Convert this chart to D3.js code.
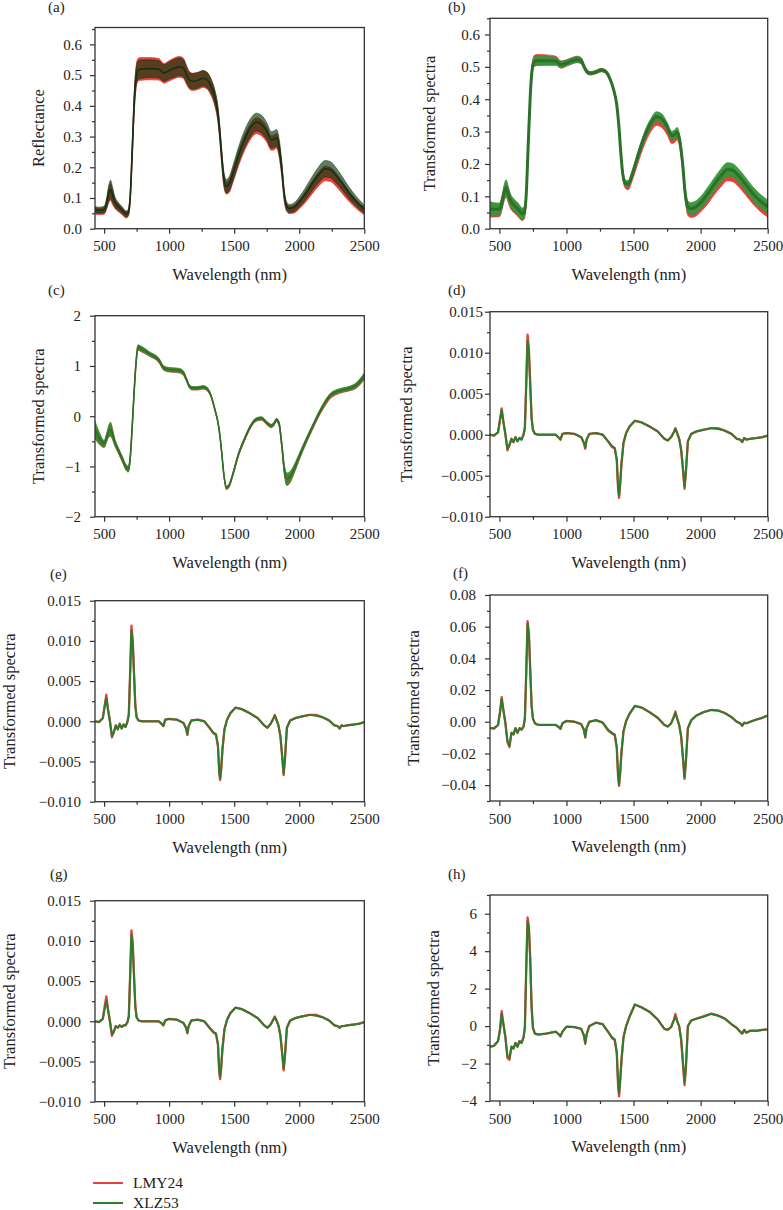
<!DOCTYPE html>
<html><head><meta charset="utf-8">
<script src="https://cdn.jsdelivr.net/npm/d3@7"></script>
<style>
body{margin:0;background:#fff;}
svg{display:block;font-family:"Liberation Serif","DejaVu Serif",serif;}
.tick text{font-size:15px;fill:#222;font-family:"Liberation Serif",serif;}
.tick line{stroke:#333;stroke-width:1.2;}
</style></head><body>
<svg id="chart" width="783" height="1210"></svg>
<script>
// ---------------- DATA ----------------
const seriesNames = ["LMY24", "XLZ53"];
const xDomain = [430, 2500];
const xMajorTicks = [500, 1000, 1500, 2000, 2500];
const xMinorTicks = [750, 1250, 1750, 2250];

// wavelength knots for spectra panels (a)-(c)
const wlSpec = [430,460,500,520,535,550,565,580,610,640,670,685,700,715,730,745,760,780,850,920,960,1000,1050,1080,1110,1135,1155,1180,1220,1260,1290,1320,1350,1375,1390,1405,1420,1440,1460,1490,1530,1580,1630,1670,1710,1750,1785,1805,1825,1845,1865,1885,1905,1925,1960,2000,2050,2100,2150,2200,2240,2280,2330,2380,2440,2500];

// (a) Reflectance: mean and half-spread per variety
const aXLZ53Mean = [0.062,0.060,0.062,0.085,0.115,0.128,0.110,0.090,0.072,0.060,0.048,0.052,0.100,0.240,0.400,0.490,0.515,0.519,0.521,0.519,0.507,0.515,0.524,0.527,0.522,0.500,0.485,0.480,0.483,0.490,0.485,0.465,0.430,0.375,0.310,0.230,0.165,0.138,0.145,0.180,0.235,0.292,0.332,0.347,0.340,0.318,0.289,0.291,0.296,0.268,0.200,0.110,0.072,0.066,0.070,0.087,0.115,0.147,0.176,0.195,0.192,0.175,0.148,0.118,0.088,0.064];
const aXLZ53Spread = [0.010,0.010,0.011,0.016,0.025,0.030,0.025,0.018,0.013,0.011,0.010,0.010,0.015,0.025,0.030,0.030,0.030,0.030,0.029,0.028,0.027,0.028,0.029,0.029,0.028,0.026,0.025,0.025,0.025,0.025,0.025,0.024,0.023,0.022,0.022,0.022,0.022,0.022,0.023,0.025,0.027,0.028,0.029,0.029,0.029,0.028,0.027,0.027,0.027,0.026,0.022,0.016,0.013,0.013,0.014,0.016,0.020,0.023,0.026,0.027,0.026,0.025,0.022,0.019,0.016,0.013];
const aLMY24Mean = [0.058,0.056,0.058,0.080,0.108,0.120,0.103,0.085,0.068,0.056,0.045,0.050,0.095,0.235,0.395,0.490,0.517,0.520,0.521,0.519,0.506,0.514,0.524,0.527,0.522,0.499,0.483,0.478,0.481,0.487,0.482,0.462,0.426,0.370,0.305,0.225,0.160,0.133,0.138,0.172,0.225,0.280,0.320,0.335,0.328,0.307,0.279,0.281,0.286,0.259,0.192,0.104,0.067,0.061,0.064,0.079,0.105,0.135,0.162,0.180,0.177,0.161,0.135,0.107,0.079,0.057];
const aLMY24Spread = [0.010,0.010,0.011,0.016,0.024,0.028,0.024,0.017,0.013,0.011,0.010,0.010,0.015,0.025,0.030,0.035,0.037,0.037,0.036,0.035,0.032,0.033,0.034,0.034,0.033,0.030,0.028,0.028,0.028,0.027,0.027,0.026,0.025,0.024,0.023,0.022,0.021,0.020,0.021,0.022,0.024,0.025,0.026,0.026,0.026,0.025,0.024,0.024,0.024,0.024,0.020,0.015,0.012,0.012,0.013,0.015,0.018,0.021,0.023,0.024,0.023,0.022,0.020,0.017,0.014,0.012];

// (b)
const bXLZ53Mean = [0.062,0.060,0.060,0.083,0.112,0.127,0.110,0.090,0.072,0.060,0.046,0.050,0.105,0.260,0.410,0.495,0.516,0.519,0.519,0.518,0.507,0.512,0.520,0.523,0.519,0.497,0.484,0.480,0.484,0.490,0.486,0.467,0.432,0.382,0.320,0.235,0.168,0.140,0.138,0.168,0.222,0.283,0.327,0.346,0.340,0.315,0.287,0.291,0.299,0.272,0.205,0.110,0.067,0.062,0.066,0.080,0.106,0.136,0.163,0.183,0.180,0.165,0.140,0.113,0.087,0.068];
const bXLZ53Spread = [0.022,0.020,0.019,0.020,0.022,0.024,0.022,0.020,0.019,0.019,0.018,0.017,0.016,0.016,0.015,0.014,0.014,0.014,0.013,0.012,0.010,0.009,0.009,0.009,0.009,0.007,0.006,0.005,0.005,0.005,0.005,0.005,0.005,0.006,0.007,0.008,0.009,0.010,0.011,0.012,0.013,0.014,0.014,0.015,0.015,0.014,0.014,0.014,0.014,0.014,0.014,0.016,0.018,0.019,0.019,0.019,0.020,0.020,0.021,0.021,0.021,0.021,0.021,0.021,0.021,0.021];
const bLMY24Mean = [0.058,0.056,0.056,0.079,0.107,0.121,0.104,0.085,0.068,0.056,0.043,0.047,0.100,0.255,0.405,0.494,0.518,0.521,0.521,0.519,0.507,0.512,0.520,0.523,0.519,0.497,0.484,0.480,0.484,0.490,0.486,0.467,0.431,0.380,0.317,0.231,0.163,0.134,0.131,0.160,0.212,0.272,0.315,0.334,0.328,0.304,0.277,0.280,0.288,0.262,0.196,0.102,0.059,0.054,0.057,0.071,0.095,0.124,0.150,0.169,0.166,0.152,0.128,0.102,0.076,0.057];
const bLMY24Spread = [0.022,0.020,0.019,0.020,0.022,0.024,0.022,0.020,0.019,0.019,0.018,0.017,0.016,0.016,0.015,0.016,0.017,0.017,0.016,0.014,0.011,0.010,0.010,0.010,0.009,0.007,0.006,0.005,0.005,0.005,0.005,0.005,0.005,0.006,0.007,0.008,0.009,0.010,0.011,0.012,0.013,0.014,0.014,0.015,0.015,0.014,0.014,0.014,0.014,0.014,0.014,0.016,0.018,0.019,0.019,0.019,0.020,0.020,0.021,0.021,0.021,0.021,0.021,0.021,0.021,0.021];

// (c)
const cXLZ53Mean = [-0.27,-0.42,-0.55,-0.42,-0.30,-0.26,-0.36,-0.50,-0.68,-0.85,-1.02,-1.05,-0.85,-0.25,0.45,1.05,1.37,1.35,1.24,1.12,0.96,0.93,0.92,0.91,0.86,0.72,0.60,0.56,0.56,0.58,0.55,0.42,0.15,-0.12,-0.38,-0.75,-1.15,-1.42,-1.38,-1.15,-0.78,-0.45,-0.18,-0.06,-0.04,-0.13,-0.19,-0.15,-0.07,-0.15,-0.55,-1.05,-1.25,-1.22,-1.05,-0.80,-0.50,-0.22,0.05,0.28,0.42,0.48,0.52,0.55,0.62,0.80];
const cXLZ53Spread = [0.17,0.12,0.07,0.08,0.11,0.14,0.10,0.07,0.05,0.05,0.05,0.06,0.05,0.05,0.05,0.05,0.05,0.05,0.04,0.04,0.04,0.04,0.04,0.04,0.04,0.03,0.03,0.03,0.03,0.03,0.03,0.02,0.02,0.02,0.02,0.02,0.02,0.03,0.03,0.03,0.03,0.03,0.03,0.03,0.03,0.03,0.03,0.03,0.03,0.04,0.06,0.09,0.12,0.11,0.08,0.06,0.05,0.04,0.04,0.04,0.04,0.04,0.04,0.04,0.05,0.06];
const cLMY24Mean = [-0.29,-0.44,-0.56,-0.43,-0.31,-0.27,-0.37,-0.51,-0.69,-0.86,-1.03,-1.06,-0.86,-0.26,0.44,1.04,1.36,1.34,1.23,1.11,0.95,0.92,0.91,0.90,0.85,0.71,0.59,0.55,0.55,0.57,0.54,0.41,0.14,-0.13,-0.39,-0.76,-1.16,-1.43,-1.39,-1.16,-0.79,-0.46,-0.19,-0.07,-0.05,-0.14,-0.20,-0.16,-0.08,-0.16,-0.57,-1.08,-1.28,-1.25,-1.07,-0.82,-0.52,-0.24,0.03,0.25,0.39,0.46,0.51,0.54,0.61,0.79];
const cLMY24Spread = [0.15,0.11,0.06,0.07,0.10,0.12,0.09,0.06,0.05,0.05,0.05,0.05,0.05,0.05,0.05,0.05,0.05,0.05,0.04,0.04,0.04,0.04,0.04,0.04,0.04,0.03,0.03,0.03,0.03,0.03,0.03,0.02,0.02,0.02,0.02,0.02,0.02,0.03,0.03,0.03,0.03,0.03,0.03,0.03,0.03,0.03,0.03,0.03,0.03,0.04,0.05,0.08,0.10,0.09,0.07,0.05,0.04,0.04,0.04,0.04,0.04,0.04,0.04,0.04,0.05,0.06];

// wavelength knots for derivative panels (d)-(h)
const wlDeriv = [430,460,490,505,517,530,545,560,575,590,605,620,635,650,665,680,690,700,710,720,730,740,750,765,790,850,920,945,955,970,1000,1060,1110,1130,1140,1150,1170,1220,1270,1310,1340,1360,1375,1385,1392,1400,1410,1425,1445,1470,1510,1560,1620,1680,1730,1755,1780,1800,1812,1825,1840,1855,1868,1880,1890,1905,1930,1970,2020,2080,2130,2180,2230,2270,2295,2310,2325,2340,2370,2420,2460,2500];

// (d)
const dXLZ53 = [0.0000,-0.0001,0.0003,0.0018,0.0030,0.0015,0.0000,-0.0017,-0.0012,-0.0005,-0.0009,-0.0003,-0.0008,-0.0004,-0.0006,0.0000,0.0008,0.0060,0.0115,0.0100,0.0060,0.0020,0.0006,0.0001,0.0000,0.0000,0.0000,-0.0004,-0.0006,0.0001,0.0002,0.0001,-0.0003,-0.0010,-0.0016,-0.0006,0.0001,0.0002,0.0000,-0.0008,-0.0014,-0.0016,-0.0030,-0.0065,-0.0074,-0.0060,-0.0035,-0.0010,0.0002,0.0010,0.0017,0.0015,0.0010,0.0004,-0.0005,-0.0007,-0.0003,0.0003,0.0007,0.0002,-0.0005,-0.0018,-0.0040,-0.0063,-0.0045,-0.0008,0.0001,0.0004,0.0006,0.0008,0.0007,0.0005,0.0001,-0.0005,-0.0006,-0.0009,-0.0004,-0.0006,-0.0005,-0.0004,-0.0003,-0.0001];
const dLMY24 = [0.0000,-0.0001,0.0003,0.0019,0.0032,0.0016,0.0000,-0.0019,-0.0013,-0.0005,-0.0009,-0.0003,-0.0008,-0.0004,-0.0006,0.0000,0.0009,0.0063,0.0122,0.0104,0.0062,0.0021,0.0006,0.0001,0.0000,0.0000,0.0000,-0.0004,-0.0006,0.0001,0.0002,0.0001,-0.0003,-0.0010,-0.0017,-0.0006,0.0001,0.0002,0.0000,-0.0008,-0.0015,-0.0017,-0.0031,-0.0067,-0.0077,-0.0062,-0.0036,-0.0010,0.0002,0.0010,0.0017,0.0015,0.0010,0.0004,-0.0005,-0.0007,-0.0003,0.0003,0.0008,0.0002,-0.0005,-0.0019,-0.0042,-0.0066,-0.0047,-0.0008,0.0001,0.0004,0.0006,0.0008,0.0008,0.0005,0.0001,-0.0005,-0.0006,-0.0009,-0.0004,-0.0006,-0.0005,-0.0004,-0.0003,-0.0001];

// (e)
const eXLZ53 = [0.0000,-0.0001,0.0004,0.0019,0.0029,0.0014,0.0000,-0.0018,-0.0013,-0.0005,-0.0010,-0.0003,-0.0009,-0.0004,-0.0007,0.0000,0.0008,0.0058,0.0113,0.0098,0.0058,0.0019,0.0005,0.0001,0.0000,0.0000,0.0000,-0.0004,-0.0006,0.0002,0.0003,0.0002,-0.0002,-0.0009,-0.0016,-0.0006,0.0001,0.0002,0.0000,-0.0008,-0.0014,-0.0016,-0.0030,-0.0063,-0.0071,-0.0058,-0.0034,-0.0010,0.0002,0.0010,0.0017,0.0015,0.0010,0.0004,-0.0005,-0.0008,-0.0003,0.0003,0.0007,0.0002,-0.0005,-0.0018,-0.0041,-0.0065,-0.0046,-0.0008,0.0001,0.0004,0.0006,0.0008,0.0007,0.0005,0.0001,-0.0005,-0.0006,-0.0009,-0.0005,-0.0006,-0.0005,-0.0004,-0.0003,-0.0001];
const eLMY24 = [0.0000,-0.0001,0.0004,0.0020,0.0033,0.0015,0.0000,-0.0020,-0.0014,-0.0005,-0.0010,-0.0003,-0.0009,-0.0004,-0.0007,0.0000,0.0009,0.0061,0.0119,0.0101,0.0060,0.0020,0.0005,0.0001,0.0000,0.0000,0.0000,-0.0004,-0.0006,0.0002,0.0003,0.0002,-0.0002,-0.0009,-0.0017,-0.0006,0.0001,0.0002,0.0000,-0.0008,-0.0015,-0.0017,-0.0031,-0.0065,-0.0073,-0.0060,-0.0035,-0.0010,0.0002,0.0010,0.0017,0.0015,0.0010,0.0004,-0.0005,-0.0008,-0.0003,0.0003,0.0008,0.0002,-0.0005,-0.0019,-0.0043,-0.0067,-0.0048,-0.0008,0.0001,0.0004,0.0006,0.0008,0.0008,0.0005,0.0001,-0.0005,-0.0006,-0.0009,-0.0005,-0.0006,-0.0005,-0.0004,-0.0003,-0.0001];

// (f)
const fXLZ53 = [-0.0040,-0.0042,-0.0020,0.0060,0.0145,0.0070,-0.0010,-0.0120,-0.0150,-0.0070,-0.0080,-0.0040,-0.0070,-0.0040,-0.0050,-0.0030,0.0020,0.0300,0.0620,0.0550,0.0320,0.0100,0.0020,-0.0010,-0.0020,-0.0020,-0.0020,-0.0035,-0.0045,-0.0010,0.0005,0.0000,-0.0015,-0.0050,-0.0095,-0.0040,0.0000,0.0010,-0.0005,-0.0050,-0.0070,-0.0080,-0.0160,-0.0340,-0.0395,-0.0320,-0.0190,-0.0060,0.0005,0.0050,0.0100,0.0090,0.0060,0.0025,-0.0020,-0.0030,-0.0010,0.0030,0.0055,0.0020,-0.0020,-0.0090,-0.0220,-0.0350,-0.0250,-0.0040,0.0010,0.0040,0.0060,0.0075,0.0070,0.0055,0.0030,0.0000,-0.0010,-0.0025,-0.0005,-0.0010,0.0000,0.0015,0.0025,0.0040];
const fLMY24 = [-0.0040,-0.0042,-0.0020,0.0065,0.0155,0.0075,-0.0010,-0.0128,-0.0160,-0.0070,-0.0080,-0.0040,-0.0070,-0.0040,-0.0050,-0.0030,0.0022,0.0310,0.0635,0.0560,0.0330,0.0105,0.0020,-0.0010,-0.0020,-0.0020,-0.0020,-0.0035,-0.0045,-0.0010,0.0005,0.0000,-0.0015,-0.0050,-0.0100,-0.0040,0.0000,0.0010,-0.0005,-0.0055,-0.0075,-0.0085,-0.0165,-0.0350,-0.0405,-0.0330,-0.0195,-0.0060,0.0005,0.0050,0.0100,0.0090,0.0060,0.0025,-0.0020,-0.0030,-0.0010,0.0032,0.0065,0.0022,-0.0020,-0.0095,-0.0230,-0.0360,-0.0260,-0.0040,0.0010,0.0040,0.0060,0.0075,0.0072,0.0055,0.0030,0.0000,-0.0010,-0.0025,-0.0005,-0.0010,0.0000,0.0015,0.0025,0.0040];

// (g)
const gXLZ53 = [0.0000,-0.0001,0.0003,0.0016,0.0026,0.0014,0.0000,-0.0016,-0.0012,-0.0006,-0.0008,-0.0005,-0.0007,-0.0005,-0.0005,-0.0001,0.0006,0.0055,0.0108,0.0094,0.0055,0.0018,0.0005,0.0001,0.0000,0.0000,0.0000,-0.0003,-0.0005,0.0001,0.0003,0.0002,-0.0002,-0.0008,-0.0014,-0.0006,0.0001,0.0002,0.0000,-0.0008,-0.0013,-0.0015,-0.0028,-0.0061,-0.0069,-0.0056,-0.0033,-0.0010,0.0002,0.0010,0.0017,0.0015,0.0010,0.0004,-0.0005,-0.0008,-0.0004,0.0002,0.0005,0.0001,-0.0005,-0.0017,-0.0038,-0.0059,-0.0043,-0.0008,0.0001,0.0004,0.0006,0.0008,0.0007,0.0005,0.0001,-0.0005,-0.0006,-0.0008,-0.0006,-0.0006,-0.0005,-0.0004,-0.0003,-0.0001];
const gLMY24 = [0.0000,-0.0001,0.0003,0.0019,0.0031,0.0015,0.0000,-0.0018,-0.0013,-0.0006,-0.0008,-0.0005,-0.0007,-0.0005,-0.0005,-0.0001,0.0007,0.0058,0.0113,0.0098,0.0057,0.0019,0.0005,0.0001,0.0000,0.0000,0.0000,-0.0003,-0.0005,0.0001,0.0003,0.0002,-0.0002,-0.0008,-0.0015,-0.0006,0.0001,0.0002,0.0000,-0.0008,-0.0014,-0.0016,-0.0029,-0.0064,-0.0072,-0.0058,-0.0034,-0.0010,0.0002,0.0010,0.0017,0.0015,0.0010,0.0004,-0.0005,-0.0008,-0.0004,0.0002,0.0006,0.0001,-0.0005,-0.0018,-0.0039,-0.0061,-0.0044,-0.0008,0.0001,0.0004,0.0006,0.0008,0.0008,0.0005,0.0001,-0.0005,-0.0006,-0.0008,-0.0006,-0.0006,-0.0005,-0.0004,-0.0003,-0.0001];

// (h)
const hXLZ53 = [-1.10,-1.05,-0.80,-0.20,0.65,0.10,-0.60,-1.60,-1.70,-1.10,-1.20,-0.90,-1.10,-0.80,-0.90,-0.60,-0.10,3.00,5.60,5.20,3.50,1.00,-0.10,-0.40,-0.45,-0.40,-0.30,-0.45,-0.55,-0.30,-0.03,-0.05,-0.15,-0.50,-0.90,-0.45,0.00,0.18,0.10,-0.30,-0.60,-0.70,-1.40,-3.10,-3.60,-2.90,-1.80,-0.60,0.00,0.50,1.15,1.00,0.75,0.35,-0.15,-0.20,-0.05,0.30,0.50,0.25,0.00,-0.70,-1.90,-3.00,-2.20,0.00,0.30,0.40,0.50,0.65,0.55,0.40,0.10,-0.10,-0.30,-0.40,-0.20,-0.35,-0.25,-0.25,-0.20,-0.18];
const hLMY24 = [-1.10,-1.05,-0.80,-0.15,0.80,0.12,-0.60,-1.70,-1.80,-1.10,-1.20,-0.90,-1.10,-0.80,-0.90,-0.60,-0.05,3.10,5.80,5.30,3.60,1.05,-0.10,-0.40,-0.45,-0.40,-0.30,-0.45,-0.55,-0.30,-0.03,-0.05,-0.15,-0.50,-0.95,-0.45,0.00,0.18,0.10,-0.30,-0.65,-0.75,-1.45,-3.20,-3.75,-3.00,-1.85,-0.60,0.00,0.50,1.15,1.00,0.77,0.35,-0.15,-0.20,-0.05,0.32,0.65,0.28,0.00,-0.75,-2.00,-3.15,-2.30,0.00,0.30,0.40,0.52,0.67,0.57,0.40,0.10,-0.10,-0.30,-0.40,-0.20,-0.35,-0.25,-0.25,-0.20,-0.18];

// y tick labels per panel
const yTicksA = [0.0,0.1,0.2,0.3,0.4,0.5,0.6];
const yMinorA = [0.05,0.15,0.25,0.35,0.45,0.55,0.65];
const yTicksC = [-2,-1,0,1,2];
const yMinorC = [-1.5,-0.5,0.5,1.5];
const yTicksD = [-0.010,-0.005,0.000,0.005,0.010,0.015];
const yMinorD = [-0.0075,-0.0025,0.0025,0.0075,0.0125];
const yTicksF = [-0.04,-0.02,0.00,0.02,0.04,0.06,0.08];
const yMinorF = [-0.05,-0.03,-0.01,0.01,0.03,0.05,0.07];
const yTicksH = [-4,-2,0,2,4,6];
const yMinorH = [-3,-1,1,3,5,7];

// ---------------- DRAWING ----------------
const RED = "#e8403f", GREEN = "#2e7d2e";
const svg = d3.select("#chart");

function zip(wl, m, s){ return wl.map((w,i)=>({w:w, m:m[i], s:s?s[i]:0})); }

function bandLayer(g, x, y, data, fill, opacity){
  const area = d3.area().x(d=>x(d.w)).y0(d=>y(d.m-d.s)).y1(d=>y(d.m+d.s)).curve(d3.curveMonotoneX);
  g.append("path").datum(data).attr("d", area).attr("fill", fill).attr("fill-opacity", opacity).attr("stroke", fill).attr("stroke-opacity", opacity).attr("stroke-width", 0.8);
}
function lineLayer(g, x, y, data, color, width, curve){
  const line = d3.line().x(d=>x(d.w)).y(d=>y(d.m)).curve(curve||d3.curveLinear);
  g.append("path").datum(data).attr("d", line).attr("fill","none").attr("stroke", color).attr("stroke-width", width).attr("stroke-linejoin","round");
}

const panels = [
  {id:"a", letter:"(a)", lx:48, ly:12, left:95, right:364.3, top:27.5, bottom:228.7, yDomain:[0,0.655], ticks:yTicksA, minor:yMinorA, fmt:".1f", pad:8, ytx:38, title:"Reflectance",
   draw:(g,x,y)=>{
     bandLayer(g,x,y,zip(wlSpec,aLMY24Mean,aLMY24Spread),RED,1);
     bandLayer(g,x,y,zip(wlSpec,aXLZ53Mean,aXLZ53Spread),"#0a3c0f",0.66);
     lineLayer(g,x,y,zip(wlSpec,aXLZ53Mean),"#13301a",1.6,d3.curveMonotoneX);
   }},
  {id:"b", letter:"(b)", lx:448, ly:12, left:490, right:767.7, top:18.3, bottom:228.7, yDomain:[0,0.65], ticks:yTicksA, minor:yMinorA, fmt:".1f", pad:5, ytx:429, title:"Transformed spectra",
   draw:(g,x,y)=>{
     bandLayer(g,x,y,zip(wlSpec,bLMY24Mean,bLMY24Spread),RED,1);
     bandLayer(g,x,y,zip(wlSpec,bXLZ53Mean,bXLZ53Spread),"#36963a",0.95);
     lineLayer(g,x,y,zip(wlSpec,bXLZ53Mean),"#2b702b",3,d3.curveMonotoneX);
   }},
  {id:"c", letter:"(c)", lx:48, ly:295, left:95, right:364.3, top:315.7, bottom:516.7, yDomain:[-2,2], ticks:yTicksC, minor:yMinorC, fmt:"d", pad:9, ytx:38, title:"Transformed spectra",
   draw:(g,x,y)=>{
     bandLayer(g,x,y,zip(wlSpec,cLMY24Mean,cLMY24Spread),RED,1);
     bandLayer(g,x,y,zip(wlSpec,cXLZ53Mean,cXLZ53Spread),"#3a8a30",0.95);
     lineLayer(g,x,y,zip(wlSpec,cXLZ53Mean),"#2e6e2a",1.6,d3.curveMonotoneX);
   }},
  {id:"d", letter:"(d)", lx:448, ly:295, left:490, right:767.7, top:311.7, bottom:516.7, yDomain:[-0.010,0.015], ticks:yTicksD, minor:yMinorD, fmt:".3f", pad:2, ytx:406, title:"Transformed spectra",
   draw:(g,x,y)=>{ lineLayer(g,x,y,zip(wlDeriv,dLMY24),RED,2.3); lineLayer(g,x,y,zip(wlDeriv,dXLZ53),GREEN,2); }},
  {id:"e", letter:"(e)", lx:50, ly:579, left:95, right:364.3, top:600.7, bottom:801.7, yDomain:[-0.010,0.015], ticks:yTicksD, minor:yMinorD, fmt:".3f", pad:9, ytx:9, title:"Transformed spectra",
   draw:(g,x,y)=>{ lineLayer(g,x,y,zip(wlDeriv,eLMY24),RED,2.3); lineLayer(g,x,y,zip(wlDeriv,eXLZ53),GREEN,2); }},
  {id:"f", letter:"(f)", lx:453, ly:578, left:490, right:767.7, top:595, bottom:801, yDomain:[-0.05,0.08], ticks:yTicksF, minor:yMinorF, fmt:".2f", pad:9, ytx:413, title:"Transformed spectra",
   draw:(g,x,y)=>{ lineLayer(g,x,y,zip(wlDeriv,fLMY24),RED,2.3); lineLayer(g,x,y,zip(wlDeriv,fXLZ53),GREEN,2); }},
  {id:"g", letter:"(g)", lx:50, ly:879, left:95, right:364.3, top:900.7, bottom:1101.7, yDomain:[-0.010,0.015], ticks:yTicksD, minor:yMinorD, fmt:".3f", pad:9, ytx:9, title:"Transformed spectra",
   draw:(g,x,y)=>{ lineLayer(g,x,y,zip(wlDeriv,gLMY24),RED,2.3); lineLayer(g,x,y,zip(wlDeriv,gXLZ53),GREEN,2); }},
  {id:"h", letter:"(h)", lx:448, ly:879, left:490, right:767.7, top:895, bottom:1101, yDomain:[-4,7], ticks:yTicksH, minor:yMinorH, fmt:"d", pad:8, ytx:433, title:"Transformed spectra",
   draw:(g,x,y)=>{ lineLayer(g,x,y,zip(wlDeriv,hLMY24),RED,2.3); lineLayer(g,x,y,zip(wlDeriv,hXLZ53),GREEN,2); }}
];

panels.forEach(p=>{
  const x = d3.scaleLinear().domain(xDomain).range([p.left, p.right]);
  const y = d3.scaleLinear().domain(p.yDomain).range([p.bottom, p.top]);
  const g = svg.append("g").attr("class","panel-"+p.id);
  const clipId = "clip-"+p.id;
  g.append("clipPath").attr("id",clipId).append("rect")
    .attr("x",p.left).attr("y",p.top).attr("width",p.right-p.left).attr("height",p.bottom-p.top);
  const plot = g.append("g").attr("clip-path",`url(#${clipId})`);
  p.draw(plot, x, y);

  const clean = s=>{ s.select(".domain").remove(); s.attr("font-size",null).attr("font-family",null); };
  g.append("g").attr("transform",`translate(0,${p.bottom})`)
    .call(d3.axisBottom(x).tickValues(xMajorTicks).tickSize(5).tickPadding(7).tickFormat(d3.format("d"))).call(clean);
  g.append("g").attr("transform",`translate(0,${p.bottom})`)
    .call(d3.axisBottom(x).tickValues(xMinorTicks).tickSize(3).tickFormat("")).call(clean);
  g.append("g").attr("transform",`translate(${p.left},0)`)
    .call(d3.axisLeft(y).tickValues(p.ticks).tickSize(5).tickPadding(p.pad).tickFormat(d3.format(p.fmt))).call(clean);
  g.append("g").attr("transform",`translate(${p.left},0)`)
    .call(d3.axisLeft(y).tickValues(p.minor).tickSize(3).tickFormat("")).call(clean);

  g.append("rect").attr("x",p.left).attr("y",p.top).attr("width",p.right-p.left).attr("height",p.bottom-p.top)
    .attr("fill","none").attr("stroke","#333").attr("stroke-width",1.3);

  g.append("text").attr("x",(p.left+p.right)/2).attr("y",p.bottom+51).attr("text-anchor","middle")
    .attr("font-size",16.5).attr("fill","#222").text("Wavelength (nm)");
  g.append("text").attr("transform",`translate(${p.ytx},${(p.top+p.bottom)/2}) rotate(-90)`)
    .attr("text-anchor","middle").attr("dy","0.35em").attr("font-size",16.5).attr("fill","#222").text(p.title);
  g.append("text").attr("x",p.lx).attr("y",p.ly).attr("font-size",15).attr("fill","#222").text(p.letter);
});

// legend
const legendColors = [RED, GREEN];
const leg = svg.append("g");
seriesNames.forEach((name,i)=>{
  const yy = 1183 + i*20;
  leg.append("line").attr("x1",93).attr("x2",123).attr("y1",yy).attr("y2",yy).attr("stroke",legendColors[i]).attr("stroke-width",2);
  leg.append("text").attr("x",133).attr("y",yy+5).attr("font-size",15.5).attr("fill","#222").text(name);
});
</script>
</body></html>
